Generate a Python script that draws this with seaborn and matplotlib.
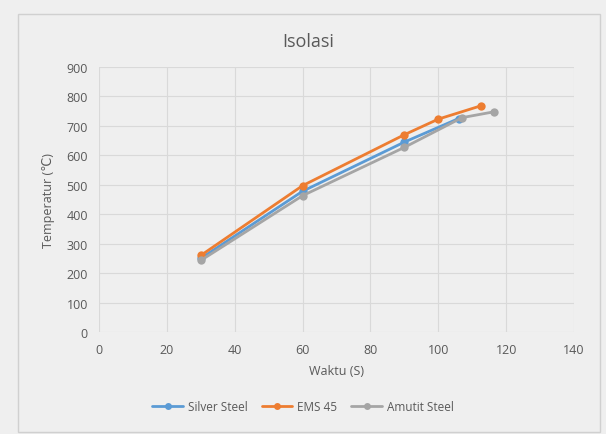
import pandas as pd
import matplotlib
matplotlib.use("Agg")
import matplotlib.pyplot as plt
import seaborn as sns
from matplotlib.patches import Rectangle

# data
silver_x = [30, 60, 90, 106]
silver_y = [250, 478, 645, 725]
ems_x = [30, 60, 90, 100, 112.5]
ems_y = [260, 497, 670, 723, 768]
amutit_x = [30, 60, 90, 107, 116.5]
amutit_y = [243, 463, 627, 728, 748]

series_names = ["Silver Steel", "EMS 45", "Amutit Steel"]
colors = ["#5B9BD5", "#ED7D31", "#A5A5A5"]

df = pd.concat([
    pd.DataFrame({"x": silver_x, "y": silver_y, "series": "Silver Steel"}),
    pd.DataFrame({"x": ems_x, "y": ems_y, "series": "EMS 45"}),
    pd.DataFrame({"x": amutit_x, "y": amutit_y, "series": "Amutit Steel"}),
], ignore_index=True)

sns.set_style("white")
plt.rcParams['font.family'] = ['Open Sans', 'DejaVu Sans']

bg = "#EFEFEF"
txt = "#595959"

fig = plt.figure(figsize=(6.06, 4.35), dpi=100, facecolor=bg)
ax = fig.add_axes([99/606, 1 - 333/435, 475/606, 265/435])
ax.set_facecolor(bg)

# outer chart border
fig.patches.append(Rectangle((18/606, 2/435), 582/606, 418/435, transform=fig.transFigure,
                             fill=False, edgecolor="#D0D0D0", linewidth=1))

sns.lineplot(data=df, x="x", y="y", hue="series", hue_order=series_names,
             palette=colors, marker="o", markersize=6, markeredgewidth=0,
             linewidth=2, sort=False, estimator=None, ax=ax, legend=False)

ax.set_xlim(0, 140)
ax.set_ylim(0, 900)
ax.set_xticks(range(0, 141, 20))
ax.set_yticks(range(0, 901, 100))
ax.grid(True, color="#D9D9D9", linewidth=0.8)
for s in ax.spines.values():
    s.set_visible(False)
ax.tick_params(length=0, labelsize=9, colors=txt, pad=8)

fig.text(308/606, 1 - 42/435, "Isolasi", fontsize=13, color=txt, ha="center", va="center")
ax.set_xlabel("Waktu (S)", fontsize=9, color=txt, labelpad=6)
ax.set_ylabel("Temperatur (\u2103)", fontsize=9, color=txt, labelpad=8)

handles = [plt.Line2D([], [], color=c, marker="o", markersize=5, markeredgewidth=0, linewidth=2)
           for c in colors]
fig.legend(handles, series_names, loc="center", bbox_to_anchor=(0.5, 1 - 408/435),
           ncol=3, frameon=False, fontsize=8.5, labelcolor=txt, handlelength=2.6,
           columnspacing=1.2, handletextpad=0.4)

fig.savefig("out.png", dpi=100, facecolor=bg)
